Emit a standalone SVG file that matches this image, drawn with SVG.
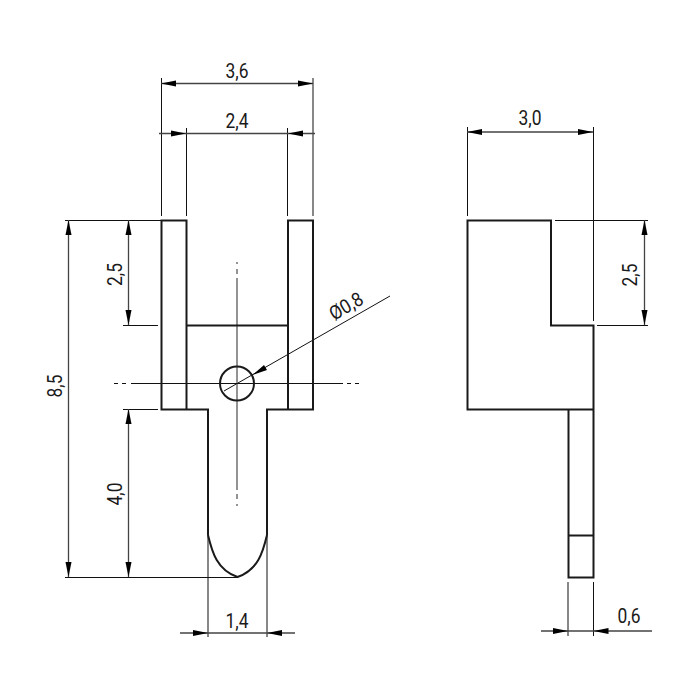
<svg xmlns="http://www.w3.org/2000/svg" width="700" height="700" viewBox="0 0 700 700">
<style>
.o{fill:none;stroke:#1a1a1a;stroke-width:2;stroke-linejoin:miter}
.t{fill:none;stroke:#111;stroke-width:1}
.d{fill:none;stroke:#444;stroke-width:1.3}
.c{fill:none;stroke:#666;stroke-width:1.4}
.a{fill:#000;stroke:none}
text{font-family:"Roboto","Liberation Sans",sans-serif;font-size:19.5px;fill:#1a1a1a;text-anchor:middle}
</style>
<defs>
<path id="ar" class="a" d="M0 0L15 -3V3Z"/>
</defs>
<rect width="700" height="700" fill="#fff"/>
<g id="connectors">
<path class="t" d="M161.500 78V216M313 78V216M186.500 128V216M287.500 128V216M467.500 127V216M593.500 127V321M555 220.500H648M597 325.500H648M65 220.500H161M123 325.500H158M123 409.500H158M65 577.500H237M208 535V637M267 535V637M568 582V636M593.500 582V636"/>
<path class="d" d="M161 83.500H313M159 133.500H315M467 132H593M644.500 220V325M68.500 220V577M128.500 220V325M128.500 409V577M180 633H295M541 631H652"/>
<path class="t" d="M390 296L224 391"/>
<use href="#ar" transform="translate(161,83.500)"/>
<use href="#ar" transform="translate(313,83.500) rotate(180)"/>
<use href="#ar" transform="translate(186,133.500) rotate(180)"/>
<use href="#ar" transform="translate(288,133.500)"/>
<use href="#ar" transform="translate(467,132)"/>
<use href="#ar" transform="translate(593,132) rotate(180)"/>
<use href="#ar" transform="translate(644.500,220) rotate(90)"/>
<use href="#ar" transform="translate(644.500,325) rotate(-90)"/>
<use href="#ar" transform="translate(68.500,220) rotate(90)"/>
<use href="#ar" transform="translate(68.500,577) rotate(-90)"/>
<use href="#ar" transform="translate(128.500,220) rotate(90)"/>
<use href="#ar" transform="translate(128.500,325) rotate(-90)"/>
<use href="#ar" transform="translate(128.500,409) rotate(90)"/>
<use href="#ar" transform="translate(128.500,577) rotate(-90)"/>
<use href="#ar" transform="translate(208,633) rotate(180)"/>
<use href="#ar" transform="translate(267,633)"/>
<use href="#ar" transform="translate(568,631) rotate(180)"/>
<use href="#ar" transform="translate(593.500,631)"/>
<use href="#ar" transform="translate(252.500,375) rotate(-30)"/>
</g>
<g id="centerlines">
<path class="c" d="M237 262V264M237 269V274M237 278V490M237 494V499M237 504V506"/>
<path class="t" d="M114 383.500H118M122 383.500H126M131 383.500H343M347 383.500H351M355 383.500H359"/>
</g>
<g id="front-view">
<path class="o" d="M161.500 220.500H186.500V409.500H161.500ZM288 220.500H313V409.500H288ZM186.500 325.500H288M186.500 409.500H208V535M288 409.500H267V535"/>
<path class="o" d="M208 535C212 552 217 570 237.500 577C258 570 263 552 267 535"/>
<circle class="o" cx="237" cy="383.500" r="17"/>
</g>
<g id="side-view">
<path class="o" d="M467.500 220.500H551V325.500H593.500V409.500H467.500ZM568.500 409.500V577.500H593.500V409.500M568.500 535.500H593.500"/>
</g>
<g id="labels">
<text x="237" y="77.500" textLength="23" lengthAdjust="spacingAndGlyphs">3,6</text>
<text x="237" y="128" textLength="23" lengthAdjust="spacingAndGlyphs">2,4</text>
<text x="530" y="125" textLength="23" lengthAdjust="spacingAndGlyphs">3,0</text>
<text x="237" y="627.500" textLength="23" lengthAdjust="spacingAndGlyphs">1,4</text>
<text x="629" y="623" textLength="23" lengthAdjust="spacingAndGlyphs">0,6</text>
<text transform="translate(62,386) rotate(-90)" textLength="23" lengthAdjust="spacingAndGlyphs">8,5</text>
<text transform="translate(122,274.500) rotate(-90)" textLength="23" lengthAdjust="spacingAndGlyphs">2,5</text>
<text transform="translate(122,494) rotate(-90)" textLength="23" lengthAdjust="spacingAndGlyphs">4,0</text>
<text transform="translate(637,275) rotate(-90)" textLength="23" lengthAdjust="spacingAndGlyphs">2,5</text>
<text transform="translate(349.500,312) rotate(-30)" textLength="36" lengthAdjust="spacingAndGlyphs">Ø0,8</text>
</g>
</svg>
